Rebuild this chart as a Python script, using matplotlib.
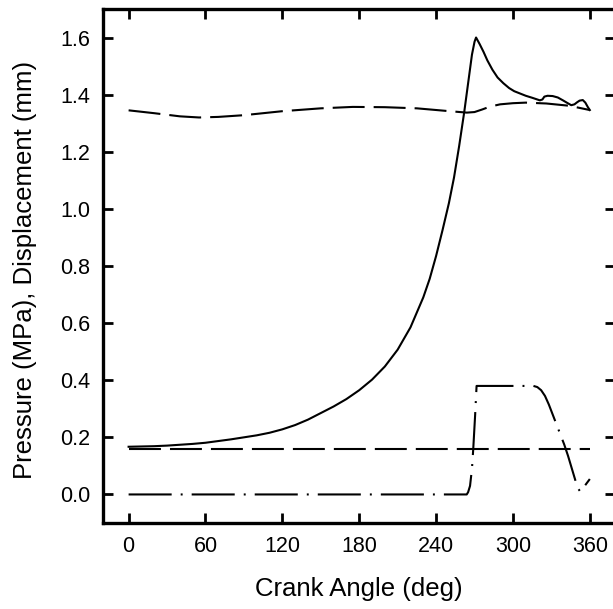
import matplotlib
matplotlib.use("Agg")
import matplotlib.pyplot as plt

plt.rcParams['font.family'] = ['Liberation Sans', 'DejaVu Sans']
plt.rcParams['lines.scale_dashes'] = False

# Cylinder pressure (MPa) vs crank angle
p_angle = [0, 10, 20, 30, 40, 50, 60, 70, 80, 90, 100, 110, 120, 130, 140, 150, 160, 170, 180, 190,
           200, 210, 220, 230, 235, 240, 245, 250, 254, 258, 262, 265, 268, 270, 271.2,
           274, 277, 280, 284, 288, 292.5, 297, 301, 305.5, 310, 315, 321, 323, 324.5, 327, 331,
           335, 339, 342, 345.5, 348, 350, 352, 354.5, 356.5, 358.5, 360]
p_value = [0.167, 0.168, 0.169, 0.171, 0.174, 0.177, 0.181, 0.187, 0.193, 0.200, 0.207, 0.216, 0.228,
           0.243, 0.262, 0.285, 0.308, 0.334, 0.365, 0.402, 0.448, 0.507, 0.585, 0.69, 0.755, 0.835,
           0.925, 1.02, 1.11, 1.22, 1.34, 1.44, 1.54, 1.585, 1.60,
           1.577, 1.55, 1.52, 1.487, 1.46, 1.44, 1.423, 1.412, 1.404, 1.396, 1.389, 1.380, 1.383,
           1.393, 1.396, 1.395, 1.39, 1.38, 1.372, 1.363, 1.366, 1.373, 1.379, 1.381, 1.372, 1.356, 1.346]

# Valve displacement (mm), upper dashed curve
d_angle = [0, 20, 40, 55, 70, 90, 120, 150, 175, 200, 225, 248, 264, 270, 276, 282, 290, 300, 310,
           326, 344, 360]
d_value = [1.345, 1.335, 1.324, 1.320, 1.322, 1.328, 1.342, 1.352, 1.357, 1.356, 1.352, 1.343, 1.337,
           1.339, 1.348, 1.358, 1.366, 1.370, 1.372, 1.369, 1.361, 1.346]

# Suction pressure (MPa), lower dashed line
s_angle = [0, 360]
s_value = [0.16, 0.16]

# Valve lift (mm), dash-dot curve
v_angle = [0, 100, 200, 263.9, 265, 266.5, 268, 269, 270.5, 271.6, 290, 316, 319, 322, 325, 328,
           331, 334, 337, 340, 343, 346, 349, 351, 352.5, 356, 360]
v_value = [0.0, 0.0, 0.0, 0.0, 0.008, 0.03, 0.09, 0.159, 0.28, 0.38, 0.38, 0.38, 0.376, 0.365, 0.345,
           0.315, 0.28, 0.245, 0.21, 0.175, 0.135, 0.09, 0.045, 0.02, 0.01, 0.03, 0.054]

x_ticks = [0, 60, 120, 180, 240, 300, 360]
y_ticks = [0.0, 0.2, 0.4, 0.6, 0.8, 1.0, 1.2, 1.4, 1.6]

fig = plt.figure(figsize=(6.13, 6.09), dpi=100)
ax = fig.add_axes([0.168, 0.1412, 0.836, 0.8441])

lw = 1.5
ax.plot(p_angle, p_value, color='black', lw=lw, linestyle='-')
ax.plot(d_angle, d_value, color='black', lw=lw, linestyle=(0, (23, 6.5)))
ax.plot(s_angle, s_value, color='black', lw=lw, linestyle=(0, (23, 6.5)))
ax.plot(v_angle, v_value, color='black', lw=lw, linestyle=(0, (31, 6.5, 1.4, 6.5)))

ax.set_xlim(-20, 380)
ax.set_ylim(-0.1, 1.7)
ax.set_xticks(x_ticks)
ax.set_xticklabels([str(v) for v in x_ticks])
ax.set_yticks(y_ticks)
ax.set_yticklabels([f"{v:.1f}" for v in y_ticks])

for s in ax.spines.values():
    s.set_linewidth(2.4)
ax.tick_params(direction='in', length=7.5, width=2.0, top=True, right=True,
               labelsize=15.5, pad=9)

ax.set_xlabel('Crank Angle (deg)', fontsize=18.5)
ax.set_ylabel('Pressure (MPa), Displacement (mm)', fontsize=18.5)
ax.xaxis.set_label_coords(0.5, -0.105)
ax.yaxis.set_label_coords(-0.128, 0.493)

fig.savefig('out.png', dpi=100)
